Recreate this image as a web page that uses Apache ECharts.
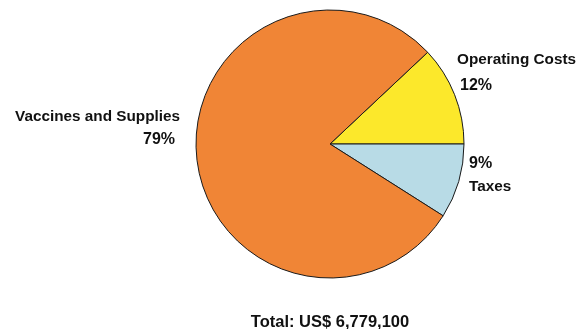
<!DOCTYPE html>
<html>
<head>
<meta charset="utf-8">
<script src="https://cdn.jsdelivr.net/npm/echarts@6/dist/echarts.min.js"></script>
<style>
  html, body { margin: 0; padding: 0; background: #ffffff; }
  #chart { width: 584px; height: 329px; }
</style>
</head>
<body>
<div id="chart"></div>
<script>
// Cost breakdown (percent of total)
const categories = ['Operating Costs', 'Taxes', 'Vaccines and Supplies'];
const shares = [12, 9, 79];
const totalText = 'Total: US$ 6,779,100';

const sliceColors = ['#FCE82B', '#B8DBE6', '#F08536'];

// Where each label block sits and how it reads
const labelSpots = [
  { x: 457, y: 73, align: 'left', valueFirst: false, lh: 26, padPct: [0, 0, 0, 3] },
  { x: 469, y: 175, align: 'left', valueFirst: true, lh: 23, padPct: [0, 0, 0, 0] },
  { x: 180, y: 128, align: 'right', valueFirst: false, lh: 23, padPct: [0, 5, 0, 0] }
];

const textBase = { fontFamily: 'Liberation Sans', fontWeight: 'bold', color: '#111111' };

const chart = echarts.init(document.getElementById('chart'), null, { renderer: 'canvas' });

const data = categories.map((name, i) => ({
  name: name,
  value: shares[i],
  itemStyle: { color: sliceColors[i] },
  label: {
    align: labelSpots[i].align,
    rich: {
      n: Object.assign({ fontSize: 15.3, lineHeight: labelSpots[i].lh }, textBase),
      v: Object.assign({ fontSize: 16, lineHeight: labelSpots[i].lh, padding: labelSpots[i].padPct }, textBase)
    }
  }
}));

chart.setOption({
  animation: false,
  backgroundColor: '#ffffff',
  title: {
    text: totalText,
    left: 325,
    textAlign: 'center',
    top: 309,
    textStyle: Object.assign({ fontSize: 16.5 }, textBase)
  },
  series: [{
    type: 'pie',
    center: [330, 144],
    radius: [0, 134],
    startAngle: 43.2,
    clockwise: true,
    avoidLabelOverlap: false,
    itemStyle: { borderColor: '#1a1a1a', borderWidth: 1 },
    emphasis: { disabled: true },
    labelLine: { show: false },
    label: Object.assign({
      show: true,
      position: 'outside',
      fontSize: 15,
      formatter: (p) => {
        const spot = labelSpots[p.dataIndex];
        const name = '{n|' + p.name + '}';
        const pct = '{v|' + p.value + '%}';
        return spot.valueFirst ? pct + '\n' + name : name + '\n' + pct;
      }
    }, textBase),
    labelLayout: (params) => {
      const spot = labelSpots[params.dataIndex];
      return {
        x: spot.x,
        y: spot.y,
        align: spot.align,
        verticalAlign: 'middle'
      };
    },
    data: data
  }]
});
</script>
</body>
</html>
